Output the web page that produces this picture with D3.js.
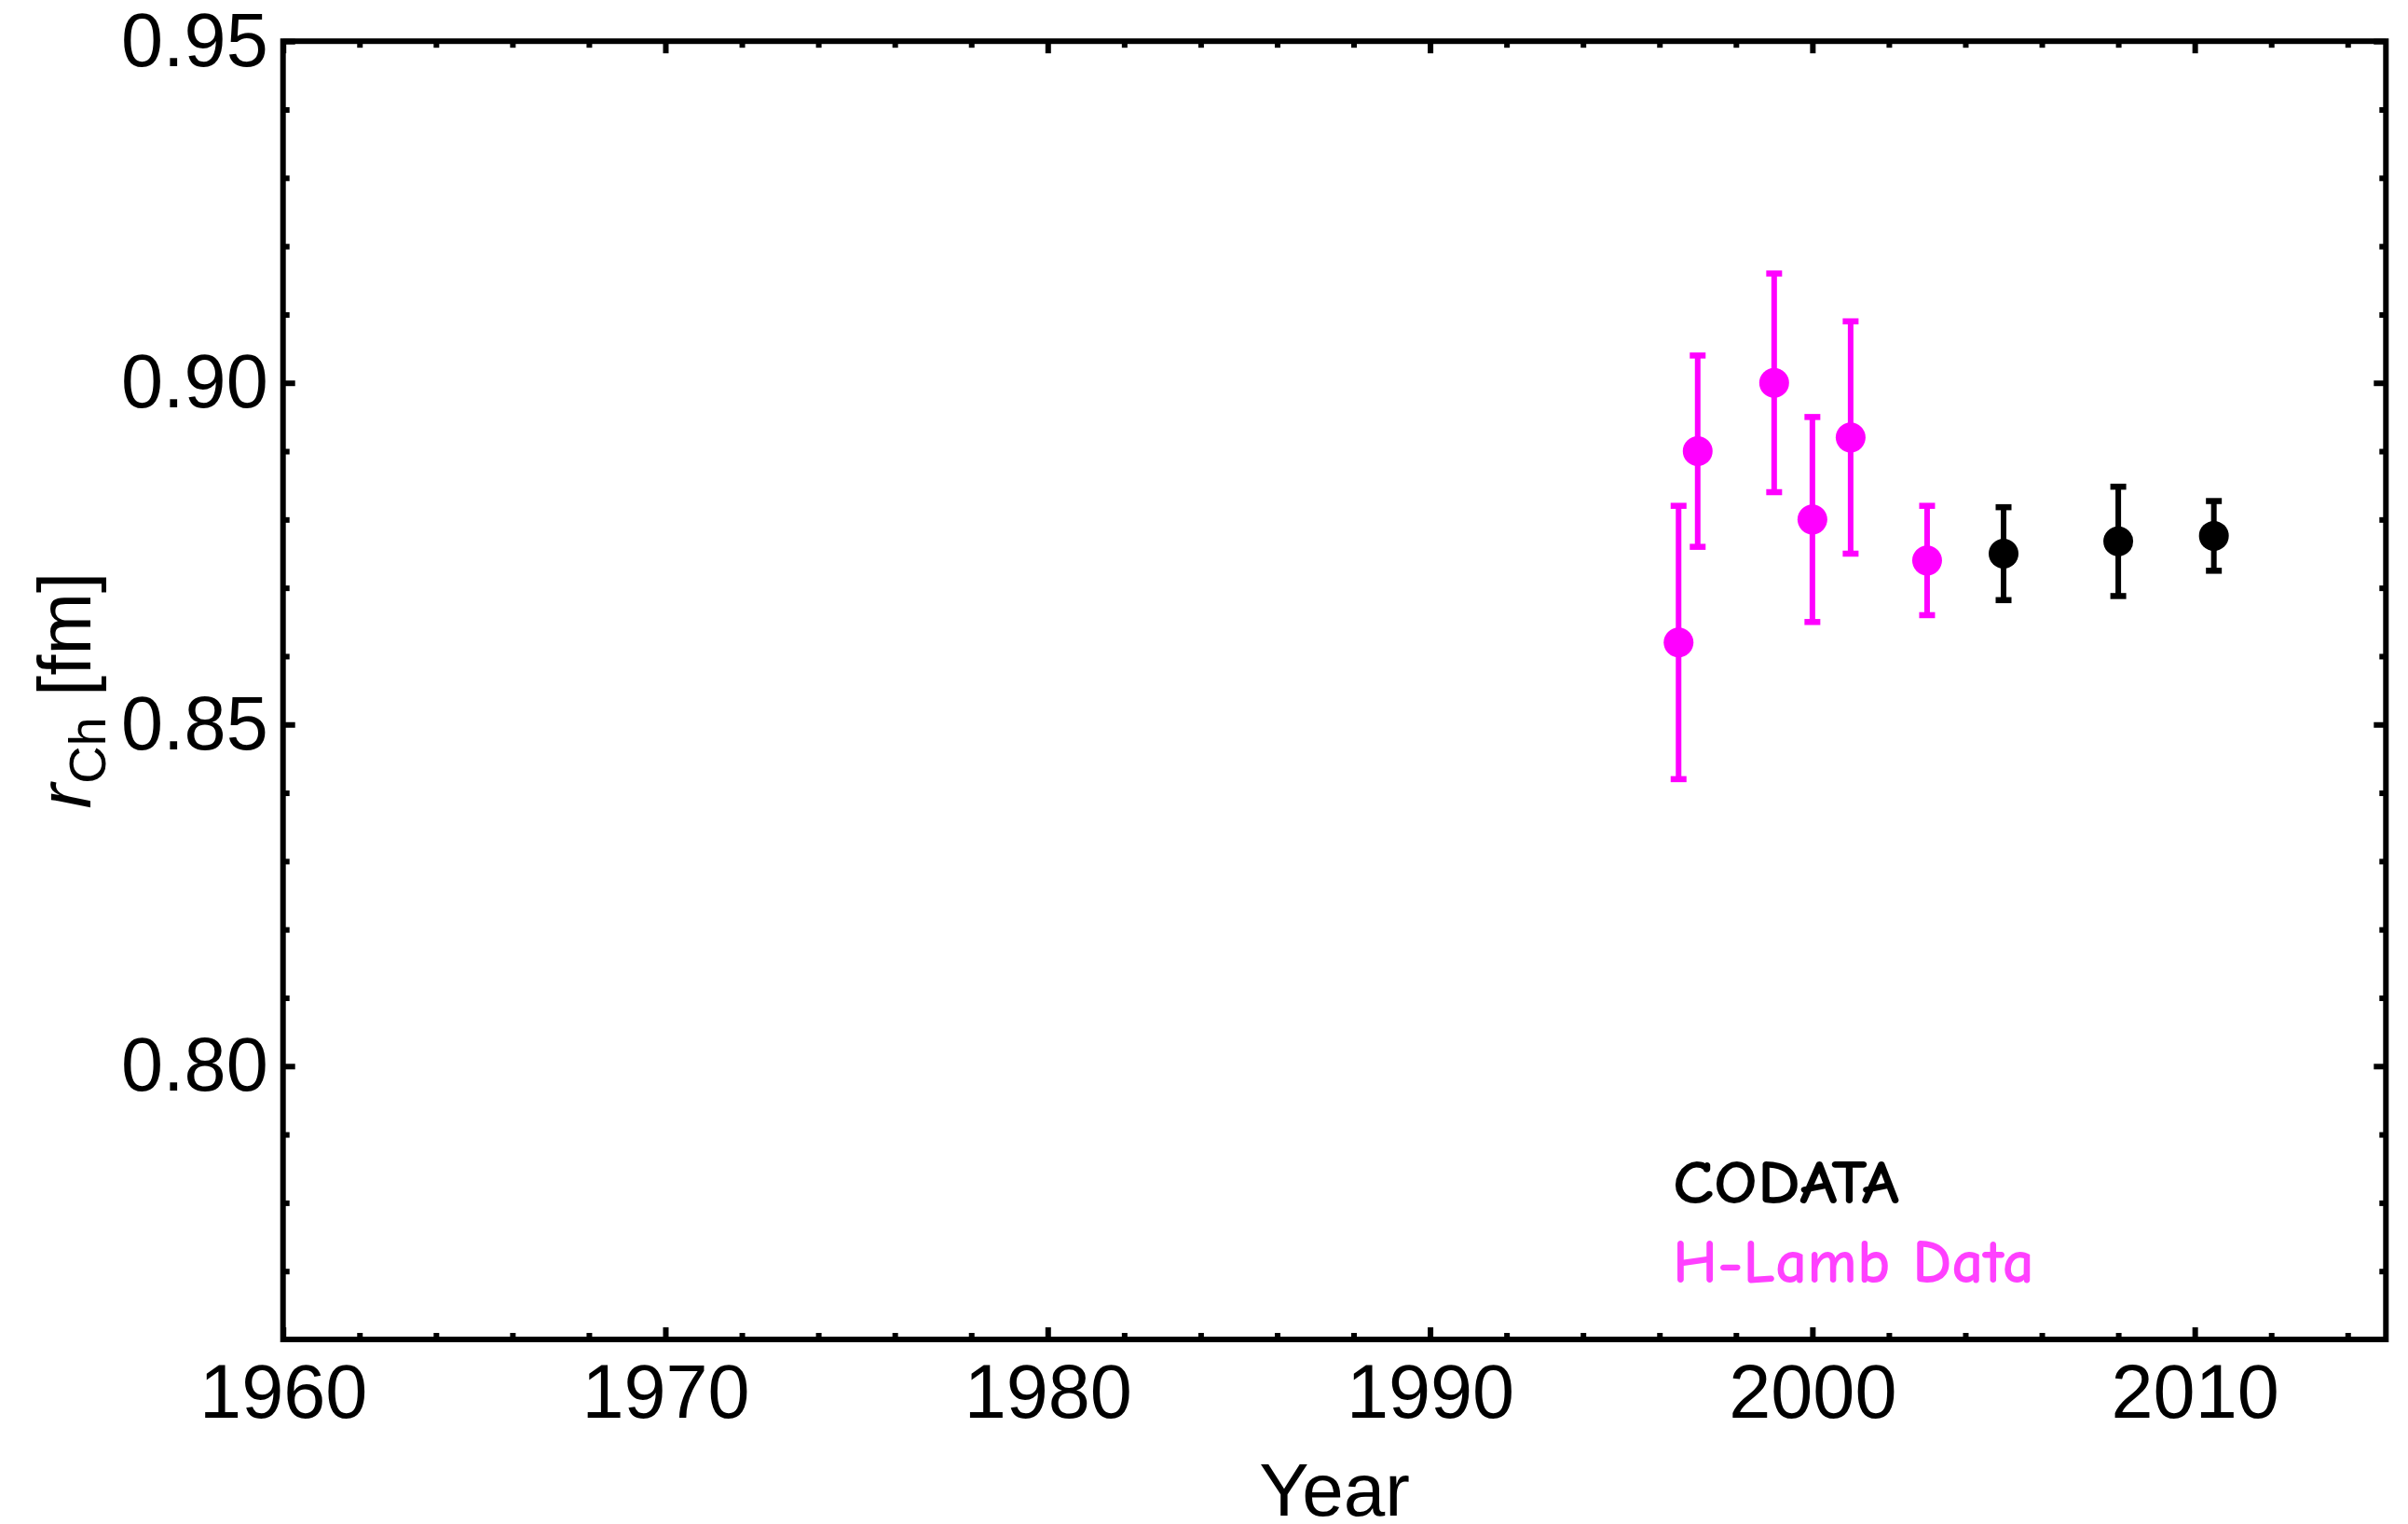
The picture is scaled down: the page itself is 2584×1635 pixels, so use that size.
<!DOCTYPE html>
<html>
<head>
<meta charset="utf-8">
<script src="https://cdn.jsdelivr.net/npm/d3@7"></script>
<style>
  body { margin: 0; background: #fff; }
  svg { display: block; }
</style>
</head>
<body>
<div id="chart"></div>
<script>
// H-Lamb shift measurements
const hLambYears = [1996.5, 1997.0, 1999.0, 2000.0, 2001.0, 2003.0];
const hLambValues = [0.862, 0.890, 0.900, 0.880, 0.892, 0.874];
const hLambErrors = [0.020, 0.014, 0.016, 0.015, 0.017, 0.008];

// CODATA values
const codataYears = [2005.0, 2008.0, 2010.5];
const codataValues = [0.8750, 0.8768, 0.8776];
const codataErrors = [0.0068, 0.0080, 0.0051];

const xMajorTicks = [1960, 1970, 1980, 1990, 2000, 2010];
const yMajorTicks = [0.80, 0.85, 0.90, 0.95];

const legendLabels = ["CODATA", "H-Lamb Data"];

const width = 2584, height = 1635;
const margin = { left: 303.7, right: 2584 - 2560.3, top: 44.2, bottom: 1635 - 1437 };
const labelFont = "'Liberation Sans', Arial, Helvetica, sans-serif";

const svg = d3.select("#chart")
    .append("svg")
    .attr("width", width)
    .attr("height", height);

const x = d3.scaleLinear()
    .domain([1960, 2015])
    .range([margin.left, width - margin.right]);

const y = d3.scaleLinear()
    .domain([0.76, 0.95])
    .range([height - margin.bottom, margin.top]);

const xMinorTicks = d3.range(1960, 2015, 2).filter(d => d % 10 !== 0);
const yMinorTicks = d3.range(77, 95).map(d => d / 100).filter(d => Math.round(d * 100) % 5 !== 0);

function styleAxis(g) {
    g.select(".domain").remove();
    g.selectAll(".tick line").attr("stroke", "#000").attr("stroke-width", 6);
    g.selectAll(".tick text")
        .attr("fill", "#000")
        .style("font-family", labelFont)
        .style("font-size", "81px");
}

// bottom axis
svg.append("g")
    .attr("transform", `translate(0, ${y.range()[0]})`)
    .call(d3.axisBottom(x).tickValues(xMajorTicks).tickSize(-13).tickPadding(26).tickFormat(d3.format("d")))
    .call(styleAxis);
svg.append("g")
    .attr("transform", `translate(0, ${y.range()[0]})`)
    .call(d3.axisBottom(x).tickValues(xMinorTicks).tickSize(-7).tickFormat(""))
    .call(styleAxis);

// top axis (mirror)
svg.append("g")
    .attr("transform", `translate(0, ${y.range()[1]})`)
    .call(d3.axisTop(x).tickValues(xMajorTicks).tickSize(-13).tickFormat(""))
    .call(styleAxis);
svg.append("g")
    .attr("transform", `translate(0, ${y.range()[1]})`)
    .call(d3.axisTop(x).tickValues(xMinorTicks).tickSize(-7).tickFormat(""))
    .call(styleAxis);

// left axis
svg.append("g")
    .attr("transform", `translate(${x.range()[0]}, 0)`)
    .call(d3.axisLeft(y).tickValues(yMajorTicks).tickSize(-13).tickPadding(16).tickFormat(d3.format(".2f")))
    .call(styleAxis);
svg.append("g")
    .attr("transform", `translate(${x.range()[0]}, 0)`)
    .call(d3.axisLeft(y).tickValues(yMinorTicks).tickSize(-7).tickFormat(""))
    .call(styleAxis);

// right axis (mirror)
svg.append("g")
    .attr("transform", `translate(${x.range()[1]}, 0)`)
    .call(d3.axisRight(y).tickValues(yMajorTicks).tickSize(-13).tickFormat(""))
    .call(styleAxis);
svg.append("g")
    .attr("transform", `translate(${x.range()[1]}, 0)`)
    .call(d3.axisRight(y).tickValues(yMinorTicks).tickSize(-7).tickFormat(""))
    .call(styleAxis);

// frame
svg.append("rect")
    .attr("x", x.range()[0])
    .attr("y", y.range()[1])
    .attr("width", x.range()[1] - x.range()[0])
    .attr("height", y.range()[0] - y.range()[1])
    .attr("fill", "none")
    .attr("stroke", "#000")
    .attr("stroke-width", 6);

// error bars + points
function drawSeries(years, values, errors, color) {
    const data = years.map((yr, i) => ({ yr, v: values[i], e: errors[i] }));
    const g = svg.append("g");

    g.selectAll("line.bar")
        .data(data)
        .join("line")
        .attr("class", "bar")
        .attr("x1", d => x(d.yr))
        .attr("x2", d => x(d.yr))
        .attr("y1", d => y(d.v - d.e))
        .attr("y2", d => y(d.v + d.e))
        .attr("stroke", color)
        .attr("stroke-width", 6);

    ["lo", "hi"].forEach(side => {
        g.selectAll(`line.cap-${side}`)
            .data(data)
            .join("line")
            .attr("class", `cap-${side}`)
            .attr("x1", d => x(d.yr) - 8.5)
            .attr("x2", d => x(d.yr) + 8.5)
            .attr("y1", d => y(side === "lo" ? d.v - d.e : d.v + d.e))
            .attr("y2", d => y(side === "lo" ? d.v - d.e : d.v + d.e))
            .attr("stroke", color)
            .attr("stroke-width", 6.5);
    });

    g.selectAll("circle")
        .data(data)
        .join("circle")
        .attr("cx", d => x(d.yr))
        .attr("cy", d => y(d.v))
        .attr("r", 16)
        .attr("fill", color);
}

drawSeries(hLambYears, hLambValues, hLambErrors, "#ff00ff");
drawSeries(codataYears, codataValues, codataErrors, "#000000");

// axis titles
svg.append("text")
    .attr("x", (x.range()[0] + x.range()[1]) / 2)
    .attr("y", 1626)
    .attr("text-anchor", "middle")
    .style("font-family", labelFont)
    .style("font-size", "80px")
    .text("Year");

const yTitle = svg.append("text")
    .attr("transform", `translate(97, ${(y.range()[0] + y.range()[1]) / 2}) rotate(-90)`)
    .attr("text-anchor", "middle")
    .style("font-family", labelFont)
    .style("font-size", "80px");
yTitle.append("tspan").style("font-style", "italic").text("r");
yTitle.append("tspan").attr("dy", 16).style("font-size", "56px").text("Ch");
yTitle.append("tspan").attr("dy", -16).text(" [fm]");

// legend
const legendColors = ["#000000", "#ff40ff"];
const legendWidths = [243, 388];
svg.append("g")
    .selectAll("text")
    .data(legendLabels)
    .join("text")
    .attr("x", 1795)
    .attr("y", (d, i) => 1291 + i * 85)
    .attr("fill", (d, i) => legendColors[i])
    .attr("textLength", (d, i) => legendWidths[i])
    .attr("lengthAdjust", "spacingAndGlyphs")
    .style("font-family", "'Comic Sans MS', 'Comic Neue', 'DejaVu Sans', sans-serif")
    .style("font-size", "66px")
    .style("font-weight", "bold")
    .text(d => d);
</script>
</body>
</html>
